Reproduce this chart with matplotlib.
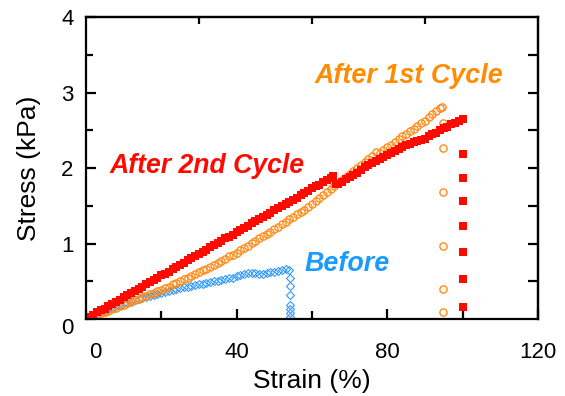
import matplotlib.pyplot as plt
import matplotlib.transforms as mtransforms

plt.rcParams['font.family'] = ['Liberation Sans', 'DejaVu Sans']

# After 2nd Cycle (red squares): loading curve, drop at ~66 %, then unloading column at 100 %
red_x = [0, 1, 2, 3, 4, 5, 6, 7, 8, 9, 10, 11, 12, 13, 14, 15, 16, 17, 18, 19,
         20, 21, 22, 23, 24, 25, 26, 27, 28, 29, 30, 31, 32, 33, 34, 35, 36, 37,
         38, 39, 40, 41, 42, 43, 44, 45, 46, 47, 48, 49, 50, 51, 52, 53, 54, 55,
         56, 57, 58, 59, 60, 61, 62, 63, 64, 65, 65.5,
         66.5, 67, 68, 69, 70, 71, 72, 73, 74, 75, 76, 77, 78, 79, 80, 81, 82,
         83, 84, 85, 86, 87, 88, 89, 90, 91, 92, 93, 94, 95, 96, 97, 98, 99, 100,
         100, 100, 100, 100, 100, 100, 100]
red_y = [0.00, 0.03, 0.06, 0.09, 0.12, 0.14, 0.17, 0.20, 0.23, 0.26, 0.29, 0.32,
         0.35, 0.37, 0.40, 0.43, 0.46, 0.49, 0.52, 0.55, 0.58, 0.60, 0.63, 0.66,
         0.69, 0.72, 0.75, 0.78, 0.81, 0.84, 0.86, 0.89, 0.92, 0.95, 0.98, 1.01,
         1.04, 1.07, 1.09, 1.12, 1.15, 1.18, 1.21, 1.24, 1.27, 1.30, 1.32, 1.35,
         1.38, 1.41, 1.44, 1.47, 1.50, 1.53, 1.55, 1.58, 1.61, 1.64, 1.67, 1.70,
         1.73, 1.76, 1.78, 1.81, 1.84, 1.87, 1.89,
         1.79, 1.79, 1.82, 1.85, 1.88, 1.91, 1.94, 1.98, 2.01, 2.04, 2.07, 2.10,
         2.12, 2.15, 2.17, 2.20, 2.22, 2.25, 2.28, 2.30, 2.32, 2.34, 2.36, 2.37,
         2.39, 2.42, 2.45, 2.47, 2.50, 2.53, 2.55, 2.58, 2.60, 2.63, 2.65,
         2.19, 1.87, 1.56, 1.23, 0.89, 0.53, 0.16]

# After 1st Cycle (orange open circles)
orange_x = [0, 1, 2, 3, 4, 5, 6, 7, 8, 9, 10, 11, 12, 13, 14, 15, 16, 17, 18, 19,
            20, 21, 22, 23, 24, 25, 26, 27, 28, 29, 30, 31, 32, 33, 34, 35, 36,
            37, 38, 39, 40, 41, 42, 43, 44, 45, 46, 47, 48, 49, 50, 51, 52, 53,
            54, 55, 56, 57, 58, 59, 60, 61, 62, 63, 64, 65, 66, 67, 68, 69, 70,
            71, 72, 73, 74, 75, 76, 77, 78, 79, 80, 81, 82, 83, 84, 85, 86, 87,
            88, 89, 90, 91, 92, 93, 94, 94.5,
            94.8, 94.8, 94.8, 94.8, 94.8, 94.8]
orange_y = [0.00, 0.02, 0.04, 0.06, 0.08, 0.10, 0.11, 0.13, 0.15, 0.17, 0.19,
            0.21, 0.23, 0.25, 0.27, 0.29, 0.31, 0.33, 0.35, 0.37, 0.39, 0.41,
            0.43, 0.46, 0.48, 0.50, 0.53, 0.55, 0.57, 0.60, 0.62, 0.65, 0.67,
            0.69, 0.72, 0.75, 0.77, 0.80, 0.83, 0.85, 0.88, 0.91, 0.94, 0.97,
            1.01, 1.04, 1.07, 1.10, 1.13, 1.16, 1.19, 1.22, 1.26, 1.29, 1.32,
            1.35, 1.39, 1.42, 1.45, 1.49, 1.52, 1.56, 1.60, 1.64, 1.68, 1.72,
            1.76, 1.80, 1.84, 1.88, 1.92, 1.96, 2.00, 2.04, 2.08, 2.12, 2.16,
            2.21, 2.20, 2.24, 2.28, 2.31, 2.35, 2.38, 2.42, 2.45, 2.49, 2.52,
            2.56, 2.60, 2.63, 2.67, 2.71, 2.75, 2.79, 2.81,
            2.60, 2.26, 1.68, 0.97, 0.40, 0.09]

# Before (blue open diamonds)
blue_x = [0, 1, 2, 3, 4, 5, 6, 7, 8, 9, 10, 11, 12, 13, 14, 15, 16, 17, 18, 19,
          20, 21, 22, 23, 24, 25, 26, 27, 28, 29, 30, 31, 32, 33, 34, 35, 36, 37,
          38, 39, 40, 41, 42, 43, 44, 45, 46, 47, 48, 49, 50, 51, 52, 53, 54,
          54.2, 54.2, 54.2, 54.2, 54.2, 54.2, 54.2]
blue_y = [0.00, 0.03, 0.05, 0.07, 0.09, 0.11, 0.13, 0.15, 0.17, 0.19, 0.21, 0.22,
          0.24, 0.25, 0.27, 0.28, 0.29, 0.31, 0.32, 0.33, 0.35, 0.36, 0.37, 0.38,
          0.40, 0.41, 0.42, 0.43, 0.44, 0.45, 0.46, 0.47, 0.48, 0.49, 0.50, 0.51,
          0.52, 0.53, 0.54, 0.55, 0.57, 0.58, 0.60, 0.61, 0.61, 0.61, 0.60, 0.60,
          0.61, 0.62, 0.63, 0.64, 0.65, 0.66, 0.65,
          0.54, 0.44, 0.32, 0.19, 0.13, 0.08, 0.03]

RED = '#FF0A00'
ORANGE = '#FF8C1A'
BLUE = '#3399FF'

fig = plt.figure(figsize=(5.65, 3.96), dpi=100)
ax = fig.add_axes([0.152, 0.194, 0.800, 0.763])

ax.plot(blue_x, blue_y, linestyle='none', marker='D', markersize=3.8,
        markerfacecolor='none', markeredgecolor=BLUE, markeredgewidth=0.8)
ax.plot(orange_x, orange_y, linestyle='none', marker='o', markersize=5.2,
        markerfacecolor='none', markeredgecolor=ORANGE, markeredgewidth=1.0)
ax.plot(red_x, red_y, linestyle='none', marker='s', markersize=5.9,
        markerfacecolor=RED, markeredgecolor=RED, markeredgewidth=0)

ax.set_xlim(0, 120)
ax.set_ylim(0, 4)
ax.set_xticks([0, 40, 80, 120])
ax.set_xticks([20, 60, 100], minor=True)
ax.set_yticks([0, 1, 2, 3, 4])
ax.set_yticks([0.5, 1.5, 2.5, 3.5], minor=True)

for s in ax.spines.values():
    s.set_linewidth(1.6)

ax.tick_params(which='both', direction='in', width=1.6, labelsize=16)
ax.tick_params(axis='x', which='major', length=7, pad=16.5)
ax.tick_params(axis='x', which='minor', length=6)
ax.tick_params(axis='y', which='major', length=7, pad=9)
ax.tick_params(axis='y', which='minor', length=5)

# right side ticks (all the same length) and top ticks at 30/60/90
ry = ax.secondary_yaxis('right')
ry.set_yticks([0.5, 1, 1.5, 2, 2.5, 3, 3.5])
ry.tick_params(direction='in', length=7, width=1.6, labelright=False)
ry.spines['right'].set_linewidth(1.6)
tx = ax.secondary_xaxis('top')
tx.set_xticks([30, 60, 90])
tx.tick_params(direction='in', length=5, width=1.6, labeltop=False)
tx.spines['top'].set_linewidth(1.6)

# nudge the two "0" labels away from the corner
xt0 = ax.xaxis.get_major_ticks()[0].label1
xt0.set_transform(xt0.get_transform()
                  + mtransforms.ScaledTranslation(7 / 72, 0, fig.dpi_scale_trans))
yt0 = ax.yaxis.get_major_ticks()[0].label1
yt0.set_transform(yt0.get_transform()
                  + mtransforms.ScaledTranslation(0, -5 / 72, fig.dpi_scale_trans))

ax.set_xlabel('Strain (%)', fontsize=19, labelpad=4.5)
ax.set_ylabel('Stress (kPa)', fontsize=19, labelpad=14.5)

ax.text(6.4, 1.93, 'After 2nd Cycle', color=RED, fontsize=19.2,
        fontweight='bold', fontstyle='italic', va='baseline', ha='left')
ax.text(60.6, 3.13, 'After 1st Cycle', color='#FF8C00', fontsize=19.4,
        fontweight='bold', fontstyle='italic', va='baseline', ha='left')
ax.text(58.1, 0.64, 'Before', color='#1A9BFF', fontsize=19.4,
        fontweight='bold', fontstyle='italic', va='baseline', ha='left')

fig.savefig('out.png', dpi=100)
